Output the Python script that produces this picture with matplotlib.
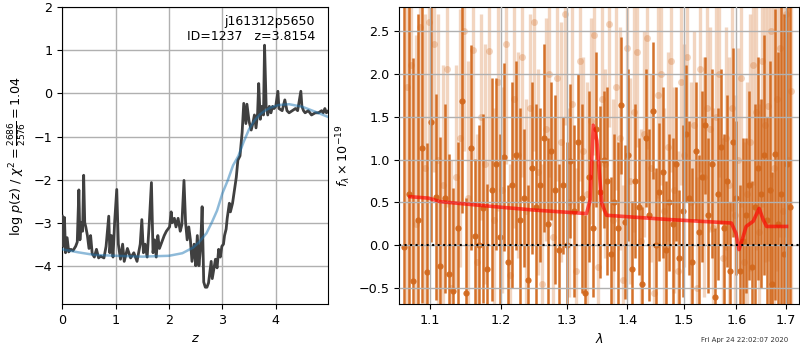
import numpy as np
import matplotlib
matplotlib.use('Agg')
import matplotlib.pyplot as plt
from matplotlib.ticker import ScalarFormatter, NullFormatter, NullLocator

plt.rcParams['font.size'] = 9.2

# left panel: log p(z) and the smooth prior-like curve
z_pz = [0.00, 0.02, 0.04, 0.06, 0.09, 0.12, 0.16, 0.20, 0.25, 0.28, 0.31, 0.33,
        0.35, 0.38, 0.40, 0.42, 0.44, 0.47, 0.50, 0.53, 0.56, 0.60, 0.64, 0.68,
        0.72, 0.78, 0.82, 0.87, 0.89, 0.92, 0.95, 0.98, 1.02, 1.05, 1.09, 1.13,
        1.16, 1.22, 1.28, 1.34, 1.40, 1.46, 1.49, 1.52, 1.55, 1.59, 1.63, 1.67,
        1.70, 1.73, 1.76, 1.79, 1.82, 1.88, 1.91, 1.95, 2.01, 2.04, 2.06, 2.10,
        2.13, 2.17, 2.21, 2.24, 2.28, 2.31, 2.34, 2.37, 2.40, 2.43, 2.47, 2.50,
        2.53, 2.56, 2.59, 2.62, 2.65, 2.68, 2.71, 2.74, 2.77, 2.79, 2.81, 2.83,
        2.87, 2.90, 2.93, 2.96, 2.99, 3.02, 3.04, 3.07, 3.09, 3.13, 3.15, 3.19,
        3.22, 3.26, 3.29, 3.33, 3.37, 3.40, 3.44, 3.46, 3.50, 3.54, 3.57, 3.60,
        3.63, 3.66, 3.68, 3.71, 3.74, 3.77, 3.79, 3.82, 3.85, 3.88, 3.91, 3.94,
        3.97, 4.00, 4.04, 4.06, 4.12, 4.17, 4.21, 4.25, 4.31, 4.37, 4.41, 4.47,
        4.49, 4.52, 4.55, 4.61, 4.67, 4.74, 4.80, 4.86, 4.89, 4.92, 4.95, 4.99]
logp = [-2.85, -3.55, -2.88, -3.70, -3.35, -3.68, -3.62, -3.65, -3.55, -3.45, -2.24, -3.40,
        -3.00, -3.20, -1.90, -3.00, -3.10, -3.30, -3.60, -3.30, -3.72, -3.80, -3.62, -3.82,
        -3.78, -3.82, -3.55, -2.85, -3.70, -3.30, -3.80, -3.00, -2.23, -3.50, -3.85, -3.50,
        -3.90, -3.60, -3.82, -3.70, -3.90, -3.50, -2.93, -3.70, -3.50, -3.80, -3.00, -2.07,
        -3.70, -3.40, -3.80, -3.30, -3.60, -3.40, -3.30, -3.20, -3.10, -2.75, -3.00, -2.90,
        -3.10, -2.90, -3.20, -3.05, -2.02, -3.00, -3.40, -3.10, -3.40, -3.90, -3.50, -4.00,
        -3.30, -4.00, -3.60, -2.63, -4.38, -4.50, -4.50, -4.40, -4.10, -3.90, -4.30, -4.15,
        -3.85, -4.05, -3.62, -3.80, -3.55, -3.50, -3.30, -3.15, -2.90, -2.55, -2.75, -2.55,
        -2.30, -1.95, -1.55, -1.45, -0.90, -0.23, -0.70, -0.25, -0.65, -0.85, -0.70, -0.50,
        -0.80, -0.45, 0.23, -0.60, -0.30, -0.50, 1.12, -0.30, -0.50, -0.30, -0.45, -0.30,
        -0.35, -0.30, 0.05, -0.35, -0.40, -0.15, -0.40, -0.45, -0.40, -0.35, -0.40, 0.05,
        -0.30, -0.40, -0.45, -0.40, -0.50, -0.45, -0.45, -0.40, -0.45, -0.35, -0.45, -0.40]

z_smooth = [0.0, 0.3, 0.6, 1.0, 1.5, 2.0, 2.25, 2.45, 2.55, 2.7, 2.8, 2.9, 3.0, 3.1,
            3.2, 3.3, 3.4, 3.5, 3.6, 3.7, 3.8, 3.9, 4.05, 4.25, 4.5, 4.75, 4.99]
logp_smooth = [-3.62, -3.69, -3.75, -3.77, -3.79, -3.77, -3.71, -3.58, -3.47, -3.25, -3.0,
               -2.72, -2.32, -2.02, -1.67, -1.45, -1.12, -0.83, -0.63, -0.49, -0.4, -0.33,
               -0.27, -0.25, -0.31, -0.43, -0.55]

# right panel: spectrum points (two sets) and the model
wave_a = [1.066, 1.072, 1.078, 1.084, 1.090, 1.096, 1.102, 1.108, 1.114, 1.120, 1.126, 1.132,
          1.138, 1.144, 1.150, 1.156, 1.162, 1.168, 1.174, 1.180, 1.186, 1.192, 1.198, 1.204,
          1.210, 1.216, 1.222, 1.228, 1.234, 1.240, 1.246, 1.252, 1.258, 1.264, 1.270, 1.276,
          1.282, 1.288, 1.294, 1.300, 1.306, 1.312, 1.318, 1.324, 1.330, 1.336, 1.342, 1.348,
          1.354, 1.360, 1.366, 1.372, 1.378, 1.384, 1.390, 1.396, 1.402, 1.408, 1.414, 1.420,
          1.426, 1.432, 1.438, 1.444, 1.450, 1.456, 1.462, 1.468, 1.474, 1.480, 1.486, 1.492,
          1.498, 1.504, 1.510, 1.516, 1.522, 1.528, 1.534, 1.540, 1.546, 1.552, 1.558, 1.564,
          1.570, 1.576, 1.582, 1.588, 1.594, 1.600, 1.606, 1.612, 1.618, 1.624, 1.630, 1.636,
          1.642, 1.648, 1.654, 1.660, 1.666, 1.672, 1.678, 1.684, 1.690, 1.696, 1.702, 1.708]
flux_a = [-0.02, 0.60, -0.42, 0.30, 1.13, -0.31, 1.44, 0.56, -0.24, 0.55, -0.33, -0.53,
          0.20, 1.68, -0.55, 1.14, 0.11, 0.00, 0.43, -0.28, 0.65, 0.95, 0.10, 1.03,
          -0.20, 0.70, 1.05, 0.30, 0.55, -0.40, 0.90, 0.45, 0.70, 1.25, 0.25, 1.10,
          0.65, -0.05, 0.70, 0.00, 0.98, 0.40, 1.20, 0.55, -0.55, 0.80, 0.20, 1.35,
          0.62, 1.00, 0.75, -0.10, 0.50, 0.20, 1.63, 0.27, 1.05, -0.28, 0.75, 0.45,
          -0.45, 1.25, 0.35, 1.57, 0.00, 0.62, 0.85, -0.05, 0.50, 0.25, 0.95, -0.15,
          0.40, 1.30, 0.55, -0.20, 1.10, 0.15, 0.80, 1.40, 0.35, 0.95, -0.60, 0.60,
          1.15, 0.20, 0.75, -0.30, 1.20, 0.55, -0.30, 0.05, 0.35, 0.70, -0.25, 0.45,
          0.90, 0.60, 1.05, 0.30, 0.65, -0.45, 1.06, 0.25, 0.60, -0.10, 0.95, 0.45]
err_a = [3.2, 3.0, 2.6, 2.4, 1.8, 1.5, 1.4, 1.2, 1.5, 1.1, 1.4, 1.2,
         1.0, 1.3, 1.1, 1.2, 0.9, 1.4, 1.1, 1.0, 1.3, 1.0, 1.2, 1.1,
         0.9, 1.2, 1.1, 1.3, 0.8, 1.1, 1.0, 1.2, 0.9, 1.1, 1.0, 0.8,
         1.1, 1.0, 0.8, 1.2, 0.9, 1.0, 0.8, 1.1, 0.9, 1.0, 0.8, 0.9,
         1.0, 0.8, 1.1, 0.9, 0.8, 1.0, 0.8, 0.9, 1.0, 0.8, 0.9, 0.8,
         0.9, 0.8, 1.0, 0.8, 0.9, 0.8, 1.0, 0.8, 0.8, 1.0, 0.9, 0.8,
         1.0, 0.8, 0.9, 1.1, 0.8, 0.9, 1.0, 0.8, 0.9, 1.1, 0.8, 1.0,
         0.9, 1.1, 1.0, 0.8, 1.1, 0.9, 1.0, 1.2, 0.9, 1.1, 1.0, 1.2,
         1.3, 1.1, 1.4, 1.2, 1.5, 1.3, 1.7, 2.0, 2.4, 2.8, 3.2, 3.6]

wave_b = [1.069, 1.075, 1.081, 1.087, 1.093, 1.099, 1.105, 1.111, 1.117, 1.123, 1.129, 1.135,
          1.141, 1.147, 1.153, 1.159, 1.165, 1.171, 1.177, 1.183, 1.189, 1.195, 1.201, 1.207,
          1.213, 1.219, 1.225, 1.231, 1.237, 1.243, 1.249, 1.255, 1.261, 1.267, 1.273, 1.279,
          1.285, 1.291, 1.297, 1.303, 1.309, 1.315, 1.321, 1.327, 1.333, 1.339, 1.345, 1.351,
          1.357, 1.363, 1.369, 1.375, 1.381, 1.387, 1.393, 1.399, 1.405, 1.411, 1.417, 1.423,
          1.429, 1.435, 1.441, 1.447, 1.453, 1.459, 1.465, 1.471, 1.477, 1.483, 1.489, 1.495,
          1.501, 1.507, 1.513, 1.519, 1.525, 1.531, 1.537, 1.543, 1.549, 1.555, 1.561, 1.567,
          1.573, 1.579, 1.585, 1.591, 1.597, 1.603, 1.609, 1.615, 1.621, 1.627, 1.633, 1.639,
          1.645, 1.651, 1.657, 1.663, 1.669, 1.675, 1.681, 1.687, 1.693, 1.699, 1.705, 1.711]
flux_b = [1.85, 2.10, 0.25, 2.55, 0.90, 2.60, 2.35, 1.00, 0.70, 2.05, -0.50, 0.80,
          1.25, 2.50, 0.55, 2.28, -0.20, 1.50, 0.95, 2.27, 0.30, 1.90, 0.65, 2.35,
          -0.35, 1.70, 1.05, 2.20, 0.40, 1.60, 2.60, 0.85, -0.45, 1.35, 2.00, 0.10,
          1.95, 1.20, 2.70, 0.50, 1.65, -0.30, 2.15, 1.10, 0.60, 1.45, 2.45, -0.25,
          1.70, 0.95, 2.58, 0.30, 1.85, 1.25, -0.40, 2.30, 0.75, 1.55, 2.25, 0.05,
          1.30, 2.42, 0.90, -0.55, 1.75, 2.00, 0.40, 1.15, 2.15, 0.65, -0.30, 1.90,
          1.05, 2.20, 0.50, 1.40, -0.50, 2.05, 0.80, 1.60, 1.35, 0.20, 1.50, 2.00,
          -0.15, 1.25, 0.70, 1.60, 0.35, 1.00, 1.95, -0.20, 0.60, 1.20, 2.10, 1.55,
          0.15, 2.15, 1.40, 1.62, 2.50, 0.90, 1.70, 2.30, 0.40, 2.70, 1.00, 1.80]
err_b = [2.8, 2.5, 2.2, 2.0, 1.8, 1.6, 1.5, 1.7, 1.4, 1.6, 1.5, 1.3,
         1.5, 1.4, 1.6, 1.3, 1.5, 1.2, 1.4, 1.6, 1.3, 1.5, 1.2, 1.4,
         1.3, 1.5, 1.2, 1.4, 1.3, 1.1, 1.5, 1.2, 1.4, 1.3, 1.2, 1.4,
         1.2, 1.4, 1.3, 1.1, 1.3, 1.2, 1.4, 1.1, 1.3, 1.2, 1.4, 1.2,
         1.3, 1.1, 1.2, 1.4, 1.2, 1.3, 1.1, 1.3, 1.2, 1.4, 1.1, 1.3,
         1.2, 1.3, 1.1, 1.4, 1.2, 1.3, 1.2, 1.1, 1.3, 1.2, 1.4, 1.2,
         1.3, 1.2, 1.4, 1.1, 1.3, 1.2, 1.4, 1.3, 1.2, 1.4, 1.3, 1.2,
         1.4, 1.3, 1.5, 1.2, 1.4, 1.3, 1.5, 1.4, 1.3, 1.5, 1.4, 1.6,
         1.5, 1.7, 1.6, 1.8, 1.7, 1.9, 2.0, 2.2, 2.4, 2.6, 2.8, 3.0]

model_wave = [1.0735, 1.098, 1.1135, 1.125, 1.191, 1.251, 1.332, 1.338, 1.343, 1.349, 1.357,
              1.365, 1.475, 1.590, 1.599, 1.605, 1.613, 1.619, 1.633, 1.645, 1.653, 1.660, 1.701]
model_flux = [0.567, 0.55, 0.51, 0.50, 0.45, 0.41, 0.37, 0.53, 1.40, 1.22, 0.49,
              0.35, 0.30, 0.26, 0.14, -0.05, 0.10, 0.22, 0.28, 0.43, 0.30, 0.22, 0.22]

root = 'j161312p5650'
obj_id = 1237
z_best = 3.8154
chi2, dof = 2686, 2576
stamp = 'Fri Apr 24 22:02:07 2020'

spec_color = '#d2691e'
grid_color = '#b0b0b0'

fig = plt.figure(figsize=(8, 3.5), dpi=100)

ax = fig.add_axes([0.0779, 0.1314, 0.3325, 0.8477])
ax.plot(z_pz, logp, color='0.25', lw=2.0, zorder=3)
ax.plot(z_smooth, logp_smooth, color='tab:blue', alpha=0.5, lw=1.8, zorder=4)
ax.set_xlim(0, 4.985)
ax.set_ylim(-4.89, 2)
ax.set_yticks([-4, -3, -2, -1, 0, 1, 2])
ax.set_xticks([0, 1, 2, 3, 4])
ax.grid(color=grid_color, lw=1.0)
ax.set_xlabel('$z$')
ax.set_ylabel(r'log $p(z)$ / $\chi^2=\frac{%d}{%d}=%.2f$' % (chi2, dof, chi2 / dof))
ax.text(0.95, 0.975, '%s\nID=%d   z=%.4f' % (root, obj_id, z_best),
        transform=ax.transAxes, ha='right', va='top', fontsize=9)

ax2 = fig.add_axes([0.4991, 0.1314, 0.4996, 0.8477])
ax2.errorbar(wave_b, flux_b, yerr=err_b, fmt='o', color=spec_color, alpha=0.28,
             ms=5, mew=0, elinewidth=2.4, capsize=0, zorder=1)
ax2.errorbar(wave_a, flux_a, yerr=err_a, fmt='o', color=spec_color, alpha=0.95,
             ms=4.5, mew=0, elinewidth=1.8, capsize=0, zorder=2)
ax2.plot(model_wave, model_flux, color='red', alpha=0.65, lw=2.6, zorder=4)
ax2.axhline(0, color='k', ls=':', lw=1.5, zorder=5)

ax2.set_xscale('log')
ax2.set_xlim(1.0595, 1.727)
ax2.set_ylim(-0.684, 2.774)
ax2.xaxis.set_minor_locator(NullLocator())
ax2.xaxis.set_minor_formatter(NullFormatter())
ax2.set_xticks([1.1, 1.2, 1.3, 1.4, 1.5, 1.6, 1.7])
ax2.xaxis.set_major_formatter(ScalarFormatter())
ax2.set_yticks([-0.5, 0.0, 0.5, 1.0, 1.5, 2.0, 2.5])
ax2.set_axisbelow(False)
ax2.grid(color=grid_color, lw=1.0, zorder=3)
ax2.set_xlabel(r'$\lambda$')
ax2.set_ylabel(r'$f_\lambda \times 10^{-19}$')

fig.text(0.985, 0.028, stamp, ha='right', va='center', fontsize=5, color='0.2')

fig.savefig('out.png', dpi=100)
